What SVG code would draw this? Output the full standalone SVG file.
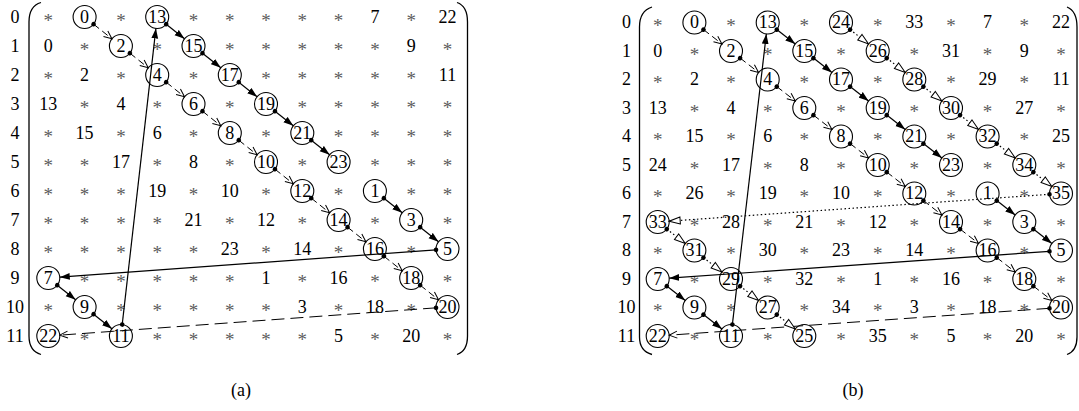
<svg xmlns="http://www.w3.org/2000/svg" width="1079" height="411" viewBox="0 0 1079 411">
<style>
text{font-family:"Liberation Serif","Times New Roman",serif;font-size:18px;text-anchor:middle}
.n{fill:#000}
.s text{fill:#5c5c5c;font-size:19px}
.cap{font-size:18px}
.nd circle{fill:none;stroke:#000;stroke-width:1.1}
.br{fill:none;stroke:#000;stroke-width:1.3}
.sol{fill:none;stroke:#000;stroke-width:1.2;marker-start:url(#dot);marker-end:url(#tri)}
.dsh{fill:none;stroke:#000;stroke-width:1;stroke-dasharray:7 4;marker-start:url(#dot);marker-end:url(#vee)}
.dshl{stroke-dasharray:13 6}
.dot{fill:none;stroke:#000;stroke-width:1.2;stroke-dasharray:1.5 2.5;marker-start:url(#dot);marker-end:url(#htri)}
</style>
<defs>
<marker id="dot" markerUnits="userSpaceOnUse" markerWidth="6" markerHeight="6" refX="3" refY="3" orient="auto"><circle cx="3" cy="3" r="2.3" fill="#000"/></marker>
<marker id="tri" markerUnits="userSpaceOnUse" markerWidth="11" markerHeight="8" refX="10" refY="4" orient="auto"><path d="M0,0.6 L10,4 L0,7.4 z" fill="#000"/></marker>
<marker id="vee" markerUnits="userSpaceOnUse" markerWidth="10" markerHeight="9" refX="9" refY="4.5" orient="auto"><path d="M1,1 L9,4.5 L1,8" fill="none" stroke="#000" stroke-width="1"/></marker>
<marker id="htri" markerUnits="userSpaceOnUse" markerWidth="13" markerHeight="10" refX="12" refY="5" orient="auto"><path d="M1,1.5 L12,5 L1,8.5 z" fill="#fff" stroke="#000" stroke-width="1"/></marker>
</defs>

<!-- ========== (a) ========== -->
<g id="matrix-a">
<g id="a-brackets">
<path class="br" d="M41,2.5 Q29,6 29,22 L29,336 Q29,351 41,354.5"/>
<path class="br" d="M457,2.5 Q467.5,6 467.5,22 L467.5,336 Q467.5,351 457,354.5"/>
</g>
<g id="a-rowlabels" class="n">
<text x="15" y="22.8">0</text><text x="15" y="51.8">1</text><text x="15" y="80.8">2</text><text x="15" y="109.8">3</text>
<text x="15" y="138.8">4</text><text x="15" y="167.8">5</text><text x="15" y="196.8">6</text><text x="15" y="225.8">7</text>
<text x="15" y="254.8">8</text><text x="15" y="283.8">9</text><text x="15" y="312.8">10</text><text x="15" y="341.8">11</text>
</g>
<g id="a-stars" class="s" transform="translate(0,1.2)">
<text x="48.3" y="25.5">*</text><text x="120.9" y="25.5">*</text><text x="193.5" y="25.5">*</text><text x="229.8" y="25.5">*</text><text x="266" y="25.5">*</text><text x="302.3" y="25.5">*</text><text x="338.6" y="25.5">*</text><text x="411.2" y="25.5">*</text>
<text x="84.6" y="54.5">*</text><text x="157.2" y="54.5">*</text><text x="229.8" y="54.5">*</text><text x="266" y="54.5">*</text><text x="302.3" y="54.5">*</text><text x="338.6" y="54.5">*</text><text x="374.9" y="54.5">*</text><text x="447.5" y="54.5">*</text>
<text x="48.3" y="83.5">*</text><text x="120.9" y="83.5">*</text><text x="193.5" y="83.5">*</text><text x="266" y="83.5">*</text><text x="302.3" y="83.5">*</text><text x="338.6" y="83.5">*</text><text x="374.9" y="83.5">*</text><text x="411.2" y="83.5">*</text>
<text x="84.6" y="112.5">*</text><text x="157.2" y="112.5">*</text><text x="229.8" y="112.5">*</text><text x="302.3" y="112.5">*</text><text x="338.6" y="112.5">*</text><text x="374.9" y="112.5">*</text><text x="411.2" y="112.5">*</text><text x="447.5" y="112.5">*</text>
<text x="48.3" y="141.5">*</text><text x="120.9" y="141.5">*</text><text x="193.5" y="141.5">*</text><text x="266" y="141.5">*</text><text x="338.6" y="141.5">*</text><text x="374.9" y="141.5">*</text><text x="411.2" y="141.5">*</text><text x="447.5" y="141.5">*</text>
<text x="48.3" y="170.5">*</text><text x="84.6" y="170.5">*</text><text x="157.2" y="170.5">*</text><text x="229.8" y="170.5">*</text><text x="302.3" y="170.5">*</text><text x="374.9" y="170.5">*</text><text x="411.2" y="170.5">*</text><text x="447.5" y="170.5">*</text>
<text x="48.3" y="199.5">*</text><text x="84.6" y="199.5">*</text><text x="120.9" y="199.5">*</text><text x="193.5" y="199.5">*</text><text x="266" y="199.5">*</text><text x="338.6" y="199.5">*</text><text x="411.2" y="199.5">*</text><text x="447.5" y="199.5">*</text>
<text x="48.3" y="228.5">*</text><text x="84.6" y="228.5">*</text><text x="120.9" y="228.5">*</text><text x="157.2" y="228.5">*</text><text x="229.8" y="228.5">*</text><text x="302.3" y="228.5">*</text><text x="374.9" y="228.5">*</text><text x="447.5" y="228.5">*</text>
<text x="48.3" y="257.5">*</text><text x="84.6" y="257.5">*</text><text x="120.9" y="257.5">*</text><text x="157.2" y="257.5">*</text><text x="193.5" y="257.5">*</text><text x="266" y="257.5">*</text><text x="338.6" y="257.5">*</text><text x="411.2" y="257.5">*</text>
<text x="84.6" y="286.5">*</text><text x="120.9" y="286.5">*</text><text x="157.2" y="286.5">*</text><text x="193.5" y="286.5">*</text><text x="229.8" y="286.5">*</text><text x="302.3" y="286.5">*</text><text x="374.9" y="286.5">*</text><text x="447.5" y="286.5">*</text>
<text x="48.3" y="315.5">*</text><text x="120.9" y="315.5">*</text><text x="157.2" y="315.5">*</text><text x="193.5" y="315.5">*</text><text x="229.8" y="315.5">*</text><text x="266" y="315.5">*</text><text x="338.6" y="315.5">*</text><text x="411.2" y="315.5">*</text>
<text x="84.6" y="344.5">*</text><text x="157.2" y="344.5">*</text><text x="193.5" y="344.5">*</text><text x="229.8" y="344.5">*</text><text x="266" y="344.5">*</text><text x="302.3" y="344.5">*</text><text x="374.9" y="344.5">*</text><text x="447.5" y="344.5">*</text>
</g>
<g id="a-values" class="n">
<text x="374.9" y="22.8">7</text><text x="447.5" y="22.8">22</text>
<text x="48.3" y="51.8">0</text><text x="411.2" y="51.8">9</text>
<text x="84.6" y="80.8">2</text><text x="447.5" y="80.8">11</text>
<text x="48.3" y="109.8">13</text><text x="120.9" y="109.8">4</text>
<text x="84.6" y="138.8">15</text><text x="157.2" y="138.8">6</text>
<text x="120.9" y="167.8">17</text><text x="193.5" y="167.8">8</text>
<text x="157.2" y="196.8">19</text><text x="229.8" y="196.8">10</text>
<text x="193.5" y="225.8">21</text><text x="266" y="225.8">12</text>
<text x="229.8" y="254.8">23</text><text x="302.3" y="254.8">14</text>
<text x="266" y="283.8">1</text><text x="338.6" y="283.8">16</text>
<text x="302.3" y="312.8">3</text><text x="374.9" y="312.8">18</text>
<text x="338.6" y="341.8">5</text><text x="411.2" y="341.8">20</text>
</g>
<g id="a-nodes" class="n">
<g id="a-node-0" class="nd"><circle cx="84.6" cy="17" r="11.5"/><text x="84.6" y="22.8">0</text></g>
<g id="a-node-2" class="nd"><circle cx="120.9" cy="46" r="11.5"/><text x="120.9" y="51.8">2</text></g>
<g id="a-node-4" class="nd"><circle cx="157.2" cy="75" r="11.5"/><text x="157.2" y="80.8">4</text></g>
<g id="a-node-6" class="nd"><circle cx="193.5" cy="104" r="11.5"/><text x="193.5" y="109.8">6</text></g>
<g id="a-node-8" class="nd"><circle cx="229.8" cy="133" r="11.5"/><text x="229.8" y="138.8">8</text></g>
<g id="a-node-10" class="nd"><circle cx="266" cy="162" r="11.5"/><text x="266" y="167.8">10</text></g>
<g id="a-node-12" class="nd"><circle cx="302.3" cy="191" r="11.5"/><text x="302.3" y="196.8">12</text></g>
<g id="a-node-14" class="nd"><circle cx="338.6" cy="220" r="11.5"/><text x="338.6" y="225.8">14</text></g>
<g id="a-node-16" class="nd"><circle cx="374.9" cy="249" r="11.5"/><text x="374.9" y="254.8">16</text></g>
<g id="a-node-18" class="nd"><circle cx="411.2" cy="278" r="11.5"/><text x="411.2" y="283.8">18</text></g>
<g id="a-node-20" class="nd"><circle cx="447.5" cy="307" r="11.5"/><text x="447.5" y="312.8">20</text></g>
<g id="a-node-22" class="nd"><circle cx="48.3" cy="336" r="11.5"/><text x="48.3" y="341.8">22</text></g>
<g id="a-node-1" class="nd"><circle cx="374.9" cy="191" r="11.5"/><text x="374.9" y="196.8">1</text></g>
<g id="a-node-3" class="nd"><circle cx="411.2" cy="220" r="11.5"/><text x="411.2" y="225.8">3</text></g>
<g id="a-node-5" class="nd"><circle cx="447.5" cy="249" r="11.5"/><text x="447.5" y="254.8">5</text></g>
<g id="a-node-7" class="nd"><circle cx="48.3" cy="278" r="11.5"/><text x="48.3" y="283.8">7</text></g>
<g id="a-node-9" class="nd"><circle cx="84.6" cy="307" r="11.5"/><text x="84.6" y="312.8">9</text></g>
<g id="a-node-11" class="nd"><circle cx="120.9" cy="336" r="11.5"/><text x="120.9" y="341.8">11</text></g>
<g id="a-node-13" class="nd"><circle cx="157.2" cy="17" r="11.5"/><text x="157.2" y="22.8">13</text></g>
<g id="a-node-15" class="nd"><circle cx="193.5" cy="46" r="11.5"/><text x="193.5" y="51.8">15</text></g>
<g id="a-node-17" class="nd"><circle cx="229.8" cy="75" r="11.5"/><text x="229.8" y="80.8">17</text></g>
<g id="a-node-19" class="nd"><circle cx="266" cy="104" r="11.5"/><text x="266" y="109.8">19</text></g>
<g id="a-node-21" class="nd"><circle cx="302.3" cy="133" r="11.5"/><text x="302.3" y="138.8">21</text></g>
<g id="a-node-23" class="nd"><circle cx="338.6" cy="162" r="11.5"/><text x="338.6" y="167.8">23</text></g>
</g>
<g id="connectors-a">
<line class="dsh" x1="93.58" y1="24.18" x2="111.91" y2="38.82"/>
<line class="dsh" x1="129.88" y1="53.18" x2="148.21" y2="67.82"/>
<line class="dsh" x1="166.18" y1="82.18" x2="184.51" y2="96.82"/>
<line class="dsh" x1="202.48" y1="111.18" x2="220.81" y2="125.82"/>
<line class="dsh" x1="238.78" y1="140.18" x2="257.11" y2="154.82"/>
<line class="dsh" x1="274.98" y1="169.18" x2="293.31" y2="183.82"/>
<line class="dsh" x1="311.28" y1="198.18" x2="329.61" y2="212.82"/>
<line class="dsh" x1="347.58" y1="227.18" x2="365.91" y2="241.82"/>
<line class="dsh" x1="383.88" y1="256.18" x2="402.21" y2="270.82"/>
<line class="dsh" x1="420.18" y1="285.18" x2="438.51" y2="299.82"/>
<line class="dsh dshl" x1="436.03" y1="307.83" x2="59.77" y2="335.17"/>
<line class="sol" x1="383.88" y1="198.18" x2="402.21" y2="212.82"/>
<line class="sol" x1="420.18" y1="227.18" x2="438.51" y2="241.82"/>
<line class="sol" x1="436.03" y1="249.83" x2="59.77" y2="277.17"/>
<line class="sol" x1="57.28" y1="285.18" x2="75.61" y2="299.82"/>
<line class="sol" x1="93.58" y1="314.18" x2="111.91" y2="328.82"/>
<line class="sol" x1="122.2" y1="324.57" x2="155.9" y2="28.43"/>
<line class="sol" x1="166.18" y1="24.18" x2="184.51" y2="38.82"/>
<line class="sol" x1="202.48" y1="53.18" x2="220.81" y2="67.82"/>
<line class="sol" x1="238.78" y1="82.18" x2="257.11" y2="96.82"/>
<line class="sol" x1="274.98" y1="111.18" x2="293.31" y2="125.82"/>
<line class="sol" x1="311.28" y1="140.18" x2="329.61" y2="154.82"/>
</g>
<text id="caption-a" class="n cap" x="241" y="396">(a)</text>
</g>

<!-- ========== (b) ========== -->
<g id="matrix-b">
<g id="b-brackets">
<path class="br" d="M652,7 Q639.5,11 639.5,27 L639.5,337 Q639.5,351 652,354.5"/>
<path class="br" d="M1067,7 Q1077,11 1077,27 L1077,337 Q1077,351 1067,354.5"/>
</g>
<g id="b-rowlabels" class="n">
<text x="626.5" y="28.3">0</text><text x="626.5" y="56.8">1</text><text x="626.5" y="85.3">2</text><text x="626.5" y="113.8">3</text>
<text x="626.5" y="142.3">4</text><text x="626.5" y="170.8">5</text><text x="626.5" y="199.3">6</text><text x="626.5" y="227.8">7</text>
<text x="626.5" y="256.3">8</text><text x="626.5" y="284.8">9</text><text x="626.5" y="313.3">10</text><text x="626.5" y="341.8">11</text>
</g>
<g id="b-stars" class="s" transform="translate(0,1.2)">
<text x="657.7" y="31">*</text><text x="731" y="31">*</text><text x="804.3" y="31">*</text><text x="877.7" y="31">*</text><text x="951" y="31">*</text><text x="1024.3" y="31">*</text>
<text x="694.4" y="59.5">*</text><text x="767.7" y="59.5">*</text><text x="841" y="59.5">*</text><text x="914.3" y="59.5">*</text><text x="987.6" y="59.5">*</text><text x="1061" y="59.5">*</text>
<text x="657.7" y="88">*</text><text x="731" y="88">*</text><text x="804.3" y="88">*</text><text x="877.7" y="88">*</text><text x="951" y="88">*</text><text x="1024.3" y="88">*</text>
<text x="694.4" y="116.5">*</text><text x="767.7" y="116.5">*</text><text x="841" y="116.5">*</text><text x="914.3" y="116.5">*</text><text x="987.6" y="116.5">*</text><text x="1061" y="116.5">*</text>
<text x="657.7" y="145">*</text><text x="731" y="145">*</text><text x="804.3" y="145">*</text><text x="877.7" y="145">*</text><text x="951" y="145">*</text><text x="1024.3" y="145">*</text>
<text x="694.4" y="173.5">*</text><text x="767.7" y="173.5">*</text><text x="841" y="173.5">*</text><text x="914.3" y="173.5">*</text><text x="987.6" y="173.5">*</text><text x="1061" y="173.5">*</text>
<text x="657.7" y="202">*</text><text x="731" y="202">*</text><text x="804.3" y="202">*</text><text x="877.7" y="202">*</text><text x="951" y="202">*</text><text x="1024.3" y="202">*</text>
<text x="694.4" y="230.5">*</text><text x="767.7" y="230.5">*</text><text x="841" y="230.5">*</text><text x="914.3" y="230.5">*</text><text x="987.6" y="230.5">*</text><text x="1061" y="230.5">*</text>
<text x="657.7" y="259">*</text><text x="731" y="259">*</text><text x="804.3" y="259">*</text><text x="877.7" y="259">*</text><text x="951" y="259">*</text><text x="1024.3" y="259">*</text>
<text x="694.4" y="287.5">*</text><text x="767.7" y="287.5">*</text><text x="841" y="287.5">*</text><text x="914.3" y="287.5">*</text><text x="987.6" y="287.5">*</text><text x="1061" y="287.5">*</text>
<text x="657.7" y="316">*</text><text x="731" y="316">*</text><text x="804.3" y="316">*</text><text x="877.7" y="316">*</text><text x="951" y="316">*</text><text x="1024.3" y="316">*</text>
<text x="694.4" y="344.5">*</text><text x="767.7" y="344.5">*</text><text x="841" y="344.5">*</text><text x="914.3" y="344.5">*</text><text x="987.6" y="344.5">*</text><text x="1061" y="344.5">*</text>
</g>
<g id="b-values" class="n">
<text x="914.3" y="28.3">33</text><text x="987.6" y="28.3">7</text><text x="1061" y="28.3">22</text>
<text x="657.7" y="56.8">0</text><text x="951" y="56.8">31</text><text x="1024.3" y="56.8">9</text>
<text x="694.4" y="85.3">2</text><text x="987.6" y="85.3">29</text><text x="1061" y="85.3">11</text>
<text x="657.7" y="113.8">13</text><text x="731" y="113.8">4</text><text x="1024.3" y="113.8">27</text>
<text x="694.4" y="142.3">15</text><text x="767.7" y="142.3">6</text><text x="1061" y="142.3">25</text>
<text x="657.7" y="170.8">24</text><text x="731" y="170.8">17</text><text x="804.3" y="170.8">8</text>
<text x="694.4" y="199.3">26</text><text x="767.7" y="199.3">19</text><text x="841" y="199.3">10</text>
<text x="731" y="227.8">28</text><text x="804.3" y="227.8">21</text><text x="877.7" y="227.8">12</text>
<text x="767.7" y="256.3">30</text><text x="841" y="256.3">23</text><text x="914.3" y="256.3">14</text>
<text x="804.3" y="284.8">32</text><text x="877.7" y="284.8">1</text><text x="951" y="284.8">16</text>
<text x="841" y="313.3">34</text><text x="914.3" y="313.3">3</text><text x="987.6" y="313.3">18</text>
<text x="877.7" y="341.8">35</text><text x="951" y="341.8">5</text><text x="1024.3" y="341.8">20</text>
</g>
<g id="b-nodes" class="n">
<g id="b-node-0" class="nd"><circle cx="694.4" cy="22.5" r="11.5"/><text x="694.4" y="28.3">0</text></g>
<g id="b-node-2" class="nd"><circle cx="731" cy="51" r="11.5"/><text x="731" y="56.8">2</text></g>
<g id="b-node-4" class="nd"><circle cx="767.7" cy="79.5" r="11.5"/><text x="767.7" y="85.3">4</text></g>
<g id="b-node-6" class="nd"><circle cx="804.3" cy="108" r="11.5"/><text x="804.3" y="113.8">6</text></g>
<g id="b-node-8" class="nd"><circle cx="841" cy="136.5" r="11.5"/><text x="841" y="142.3">8</text></g>
<g id="b-node-10" class="nd"><circle cx="877.7" cy="165" r="11.5"/><text x="877.7" y="170.8">10</text></g>
<g id="b-node-12" class="nd"><circle cx="914.3" cy="193.5" r="11.5"/><text x="914.3" y="199.3">12</text></g>
<g id="b-node-14" class="nd"><circle cx="951" cy="222" r="11.5"/><text x="951" y="227.8">14</text></g>
<g id="b-node-16" class="nd"><circle cx="987.6" cy="250.5" r="11.5"/><text x="987.6" y="256.3">16</text></g>
<g id="b-node-18" class="nd"><circle cx="1024.3" cy="279" r="11.5"/><text x="1024.3" y="284.8">18</text></g>
<g id="b-node-20" class="nd"><circle cx="1061" cy="307.5" r="11.5"/><text x="1061" y="313.3">20</text></g>
<g id="b-node-22" class="nd"><circle cx="657.7" cy="336" r="11.5"/><text x="657.7" y="341.8">22</text></g>
<g id="b-node-1" class="nd"><circle cx="987.6" cy="193.5" r="11.5"/><text x="987.6" y="199.3">1</text></g>
<g id="b-node-3" class="nd"><circle cx="1024.3" cy="222" r="11.5"/><text x="1024.3" y="227.8">3</text></g>
<g id="b-node-5" class="nd"><circle cx="1061" cy="250.5" r="11.5"/><text x="1061" y="256.3">5</text></g>
<g id="b-node-7" class="nd"><circle cx="657.7" cy="279" r="11.5"/><text x="657.7" y="284.8">7</text></g>
<g id="b-node-9" class="nd"><circle cx="694.4" cy="307.5" r="11.5"/><text x="694.4" y="313.3">9</text></g>
<g id="b-node-11" class="nd"><circle cx="731" cy="336" r="11.5"/><text x="731" y="341.8">11</text></g>
<g id="b-node-13" class="nd"><circle cx="767.7" cy="22.5" r="11.5"/><text x="767.7" y="28.3">13</text></g>
<g id="b-node-15" class="nd"><circle cx="804.3" cy="51" r="11.5"/><text x="804.3" y="56.8">15</text></g>
<g id="b-node-17" class="nd"><circle cx="841" cy="79.5" r="11.5"/><text x="841" y="85.3">17</text></g>
<g id="b-node-19" class="nd"><circle cx="877.7" cy="108" r="11.5"/><text x="877.7" y="113.8">19</text></g>
<g id="b-node-21" class="nd"><circle cx="914.3" cy="136.5" r="11.5"/><text x="914.3" y="142.3">21</text></g>
<g id="b-node-23" class="nd"><circle cx="951" cy="165" r="11.5"/><text x="951" y="170.8">23</text></g>
<g id="b-node-24" class="nd"><circle cx="841" cy="22.5" r="11.5"/><text x="841" y="28.3">24</text></g>
<g id="b-node-26" class="nd"><circle cx="877.7" cy="51" r="11.5"/><text x="877.7" y="56.8">26</text></g>
<g id="b-node-28" class="nd"><circle cx="914.3" cy="79.5" r="11.5"/><text x="914.3" y="85.3">28</text></g>
<g id="b-node-30" class="nd"><circle cx="951" cy="108" r="11.5"/><text x="951" y="113.8">30</text></g>
<g id="b-node-32" class="nd"><circle cx="987.6" cy="136.5" r="11.5"/><text x="987.6" y="142.3">32</text></g>
<g id="b-node-34" class="nd"><circle cx="1024.3" cy="165" r="11.5"/><text x="1024.3" y="170.8">34</text></g>
<g id="b-node-35" class="nd"><circle cx="1061" cy="193.5" r="11.5"/><text x="1061" y="199.3">35</text></g>
<g id="b-node-33" class="nd"><circle cx="657.7" cy="222" r="11.5"/><text x="657.7" y="227.8">33</text></g>
<g id="b-node-31" class="nd"><circle cx="694.4" cy="250.5" r="11.5"/><text x="694.4" y="256.3">31</text></g>
<g id="b-node-29" class="nd"><circle cx="731" cy="279" r="11.5"/><text x="731" y="284.8">29</text></g>
<g id="b-node-27" class="nd"><circle cx="767.7" cy="307.5" r="11.5"/><text x="767.7" y="313.3">27</text></g>
<g id="b-node-25" class="nd"><circle cx="804.3" cy="336" r="11.5"/><text x="804.3" y="341.8">25</text></g>
</g>
<g id="connectors-b">
<line class="dsh" x1="703.44" y1="29.56" x2="721.94" y2="43.94"/>
<line class="dsh" x1="740.1" y1="58.06" x2="758.6" y2="72.44"/>
<line class="dsh" x1="776.76" y1="86.56" x2="795.26" y2="100.94"/>
<line class="dsh" x1="813.42" y1="115.06" x2="831.92" y2="129.44"/>
<line class="dsh" x1="850.08" y1="143.56" x2="868.58" y2="157.94"/>
<line class="dsh" x1="886.74" y1="172.06" x2="905.24" y2="186.44"/>
<line class="dsh" x1="923.4" y1="200.56" x2="941.9" y2="214.94"/>
<line class="dsh" x1="960.06" y1="229.06" x2="978.56" y2="243.44"/>
<line class="dsh" x1="996.72" y1="257.56" x2="1015.22" y2="271.94"/>
<line class="dsh" x1="1033.38" y1="286.06" x2="1051.88" y2="300.44"/>
<line class="dsh dshl" x1="1049.49" y1="308.31" x2="669.17" y2="335.19"/>
<line class="sol" x1="996.72" y1="200.56" x2="1015.22" y2="214.94"/>
<line class="sol" x1="1033.38" y1="229.06" x2="1051.88" y2="243.44"/>
<line class="sol" x1="1049.49" y1="251.31" x2="669.17" y2="278.19"/>
<line class="sol" x1="666.78" y1="286.06" x2="685.28" y2="300.44"/>
<line class="sol" x1="703.44" y1="314.56" x2="721.94" y2="328.94"/>
<line class="sol" x1="732.36" y1="324.58" x2="766.34" y2="33.92"/>
<line class="sol" x1="776.76" y1="29.56" x2="795.26" y2="43.94"/>
<line class="sol" x1="813.42" y1="58.06" x2="831.92" y2="72.44"/>
<line class="sol" x1="850.08" y1="86.56" x2="868.58" y2="100.94"/>
<line class="sol" x1="886.74" y1="115.06" x2="905.24" y2="129.44"/>
<line class="sol" x1="923.4" y1="143.56" x2="941.9" y2="157.94"/>
<line class="dot" x1="850.08" y1="29.56" x2="868.58" y2="43.94"/>
<line class="dot" x1="886.74" y1="58.06" x2="905.24" y2="72.44"/>
<line class="dot" x1="923.4" y1="86.56" x2="941.9" y2="100.94"/>
<line class="dot" x1="960.06" y1="115.06" x2="978.56" y2="129.44"/>
<line class="dot" x1="996.72" y1="143.56" x2="1015.22" y2="157.94"/>
<line class="dot" x1="1033.38" y1="172.06" x2="1051.88" y2="186.44"/>
<line class="dot" x1="1049.49" y1="194.31" x2="669.17" y2="221.19"/>
<line class="dot" x1="666.78" y1="229.06" x2="685.28" y2="243.44"/>
<line class="dot" x1="703.44" y1="257.56" x2="721.94" y2="271.94"/>
<line class="dot" x1="740.1" y1="286.06" x2="758.6" y2="300.44"/>
<line class="dot" x1="776.76" y1="314.56" x2="795.26" y2="328.94"/>
</g>
<text id="caption-b" class="n cap" x="853" y="396">(b)</text>
</g>
</svg>
